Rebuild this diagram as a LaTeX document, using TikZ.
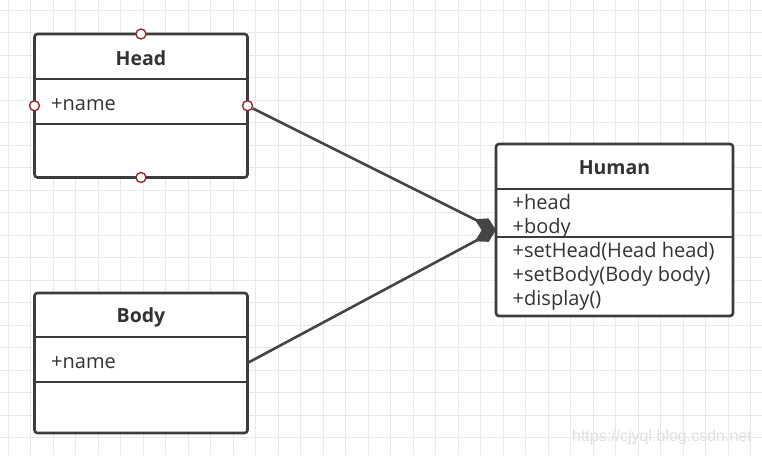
\documentclass[tikz,border=0pt]{standalone}
\usepackage{fontspec}
\setmainfont{Open Sans}
\newfontfamily\markfont{Liberation Sans}
\usepackage{xcolor}
\usetikzlibrary{arrows.meta, positioning, calc}
\definecolor{boxgray}{HTML}{3C3C3C}
\definecolor{textgray}{HTML}{333333}
\definecolor{linegray}{HTML}{444444}
\definecolor{gridgray}{HTML}{E9E9E9}
\definecolor{portred}{HTML}{8B2E2E}
\definecolor{markgray}{HTML}{E0E0E0}
\tikzstyle{classbox} = [rectangle, rounded corners=3pt, draw=boxgray, line width=2.6pt, fill=white, inner sep=0pt, outer sep=0pt]
\tikzstyle{divider} = [draw=boxgray, line width=2.6pt]
\tikzstyle{classtitle} = [anchor=base, inner sep=0pt, text=textgray, font=\fontsize{19.5}{22}\selectfont\bfseries]
\tikzstyle{member} = [anchor=base west, inner sep=0pt, text=textgray, font=\fontsize{20}{24}\selectfont]
\tikzstyle{port} = [circle, draw=portred, fill=white, line width=1.4pt, minimum size=10pt, inner sep=0pt]
\tikzstyle{arrow} = [line width=2.6pt, draw=linegray, -{Diamond[length=24pt, width=14pt, fill=linegray]}]

\begin{document}
\begin{tikzpicture}[x=1pt, y=-1pt]
    \useasboundingbox (0,0) rectangle (762,455);
    \fill[white] (0,0) rectangle (762,455);
    % grid
    \foreach \i in {0,...,33}
        \draw[gridgray, line width=1pt] (8+22.5*\i,0) -- (8+22.5*\i,455);
    \foreach \j in {0,...,19}
        \draw[gridgray, line width=1pt] (0,10+22.5*\j) -- (762,10+22.5*\j);

    % classes
    \node (head) [classbox, minimum width=213, minimum height=143.5] at (141,105.75) {};
    \node (body) [classbox, minimum width=213, minimum height=140] at (141,363) {};
    \node (human) [classbox, minimum width=237, minimum height=172] at (614.5,230) {};

    \draw[divider] ($(head.north west)+(0,45)$) -- ($(head.north east)+(0,45)$);
    \draw[divider] ($(head.north west)+(0,90)$) -- ($(head.north east)+(0,90)$);
    \draw[divider] ($(body.north west)+(0,44)$) -- ($(body.north east)+(0,44)$);
    \draw[divider] ($(body.north west)+(0,89)$) -- ($(body.north east)+(0,89)$);
    \draw[divider] ($(human.north west)+(0,45)$) -- ($(human.north east)+(0,45)$);
    \draw[divider] ($(human.north west)+(0,93)$) -- ($(human.north east)+(0,93)$);

    \node (headname) [classtitle] at (141,65) {Head};
    \node (headattr) [member] at (51,110) {+name};
    \node (bodyname) [classtitle] at (141,322.5) {Body};
    \node (bodyattr) [member] at (51,368) {+name};
    \node (humanname) [classtitle] at (614.5,174) {Human};
    \node (humanhead) [member] at (512.5,209) {+head};
    \node (humanbody) [member, below=24pt of humanhead.base west, anchor=base west] {+body};
    \node (sethead) [member, below=24pt of humanbody.base west, anchor=base west] {+setHead(Head head)};
    \node (setbody) [member, below=24pt of sethead.base west, anchor=base west] {+setBody(Body body)};
    \node (display) [member, below=24pt of setbody.base west, anchor=base west] {+display()};

    % ports
    \node (portN) [port] at (head.north) {};
    \node (portS) [port] at (head.south) {};
    \node (portW) [port] at (head.west) {};
    \node (portE) [port] at (head.east) {};

    % composition
    \draw [arrow] (portE) -- (human.west);
    \draw [arrow] (body.east) -- (human.west);

    \node (mark) [anchor=base east, inner sep=0pt, text=markgray, font=\markfont\fontsize{16}{18}\selectfont] at (752,441) {https://cjyql.blog.csdn.net};
\end{tikzpicture}
\end{document}
